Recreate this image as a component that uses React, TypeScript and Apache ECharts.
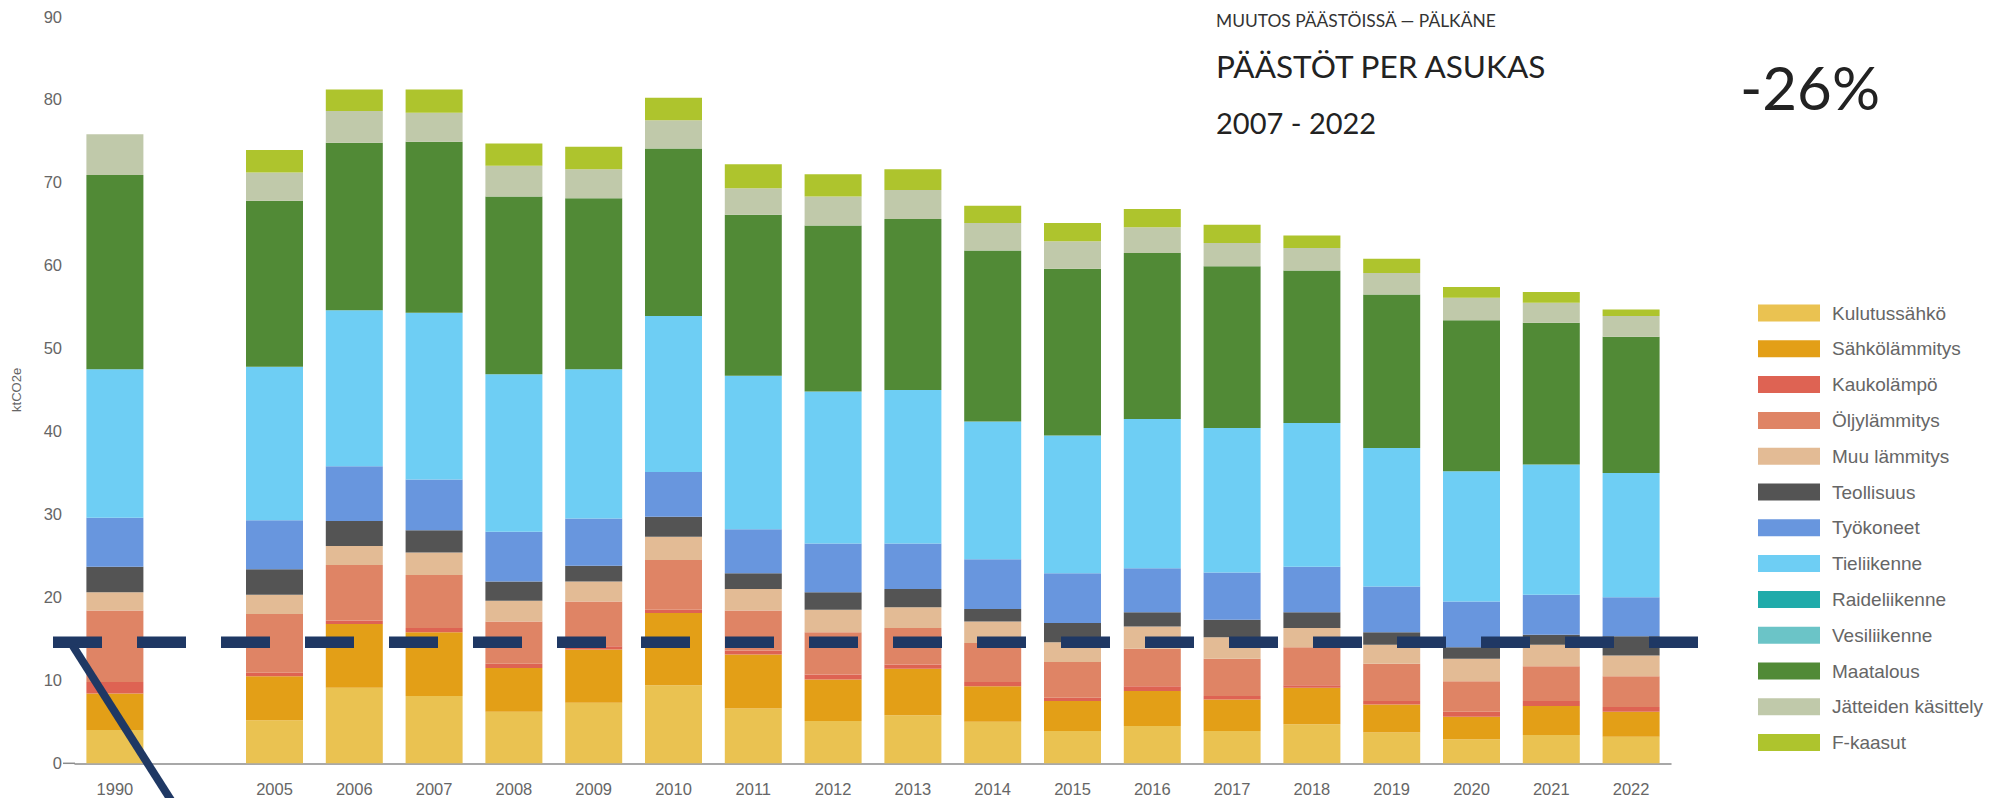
import React, { useEffect, useRef } from 'react';
import * as echarts from 'echarts';

const categories = ['1990', '', '2005', '2006', '2007', '2008', '2009', '2010', '2011', '2012', '2013', '2014', '2015', '2016', '2017', '2018', '2019', '2020', '2021', '2022'];

const kulutussahko = [4.0, null, 5.2, 9.1, 8.1, 6.2, 7.3, 9.4, 6.6, 5.1, 5.8, 5.0, 3.9, 4.5, 3.9, 4.7, 3.7, 2.9, 3.4, 3.2];
const sahkolammitys = [4.4, null, 5.3, 7.7, 7.7, 5.3, 6.4, 8.7, 6.5, 5.0, 5.6, 4.3, 3.6, 4.2, 3.8, 4.4, 3.4, 2.7, 3.5, 3.0];
const kaukolampo = [1.4, null, 0.4, 0.4, 0.5, 0.5, 0.4, 0.4, 0.5, 0.6, 0.5, 0.5, 0.4, 0.6, 0.4, 0.3, 0.4, 0.6, 0.6, 0.6];
const oljylammitys = [8.6, null, 7.1, 6.7, 6.4, 5.1, 5.4, 6.0, 4.8, 5.1, 4.4, 4.7, 4.3, 4.5, 4.5, 4.6, 4.5, 3.7, 4.2, 3.7];
const muuLammitys = [2.2, null, 2.3, 2.3, 2.7, 2.5, 2.4, 2.8, 2.6, 2.7, 2.5, 2.6, 2.4, 2.7, 2.6, 2.3, 2.3, 2.7, 2.6, 2.5];
const teollisuus = [3.1, null, 3.1, 3.0, 2.7, 2.3, 1.9, 2.4, 1.9, 2.1, 2.2, 1.5, 2.3, 1.7, 2.1, 1.9, 1.5, 1.4, 1.2, 2.3];
const tyokoneet = [5.9, null, 5.9, 6.6, 6.1, 6.0, 5.7, 5.4, 5.3, 5.9, 5.5, 6.0, 6.0, 5.3, 5.7, 5.5, 5.5, 5.5, 4.8, 4.7];
const tieliikenne = [17.9, null, 18.5, 18.8, 20.1, 19.0, 18.0, 18.8, 18.5, 18.3, 18.5, 16.6, 16.6, 18.0, 17.4, 17.3, 16.7, 15.7, 15.7, 15.0];
const raideliikenne = [0, null, 0, 0, 0, 0, 0, 0, 0, 0, 0, 0, 0, 0, 0, 0, 0, 0, 0, 0];
const vesiliikenne = [0, null, 0, 0, 0, 0, 0, 0, 0, 0, 0, 0, 0, 0, 0, 0, 0, 0, 0, 0];
const maatalous = [23.4, null, 20.0, 20.2, 20.6, 21.4, 20.6, 20.2, 19.4, 20.0, 20.6, 20.6, 20.1, 20.0, 19.5, 18.4, 18.5, 18.2, 17.1, 16.4];
const jatteidenKasittely = [4.9, null, 3.4, 3.8, 3.5, 3.7, 3.5, 3.4, 3.2, 3.5, 3.5, 3.3, 3.3, 3.1, 2.8, 2.7, 2.6, 2.7, 2.4, 2.5];
const fKaasut = [0, null, 2.7, 2.6, 2.8, 2.7, 2.7, 2.7, 2.9, 2.7, 2.5, 2.1, 2.2, 2.2, 2.2, 1.5, 1.7, 1.3, 1.3, 0.8];

const seriesNames = ['Kulutussähkö', 'Sähkölämmitys', 'Kaukolämpö', 'Öljylämmitys', 'Muu lämmitys', 'Teollisuus', 'Työkoneet', 'Tieliikenne', 'Raideliikenne', 'Vesiliikenne', 'Maatalous', 'Jätteiden käsittely', 'F-kaasut'];
const seriesData = [kulutussahko, sahkolammitys, kaukolampo, oljylammitys, muuLammitys, teollisuus, tyokoneet, tieliikenne, raideliikenne, vesiliikenne, maatalous, jatteidenKasittely, fKaasut];
const seriesColors = ['#EAC251', '#E39F17', '#DE6353', '#DF8465', '#E3BB95', '#545454', '#6896DE', '#6ECEF4', '#20ABAA', '#6BC4C7', '#518A36', '#C0C9AA', '#AEC42D'];

const yTicks = { min: 0, max: 90, interval: 10 };
const thresholdValue = 14.6;

const titleSmall = 'MUUTOS PÄÄSTÖISSÄ — PÄLKÄNE';
const titleMain = 'PÄÄSTÖT PER ASUKAS';
const titlePeriod = '2007 - 2022';
const changeText = '-26%';

export default function App() {
  const ref = useRef<HTMLDivElement>(null);
  useEffect(() => {
    const chart = echarts.init(ref.current!, null, { renderer: 'svg' });
    const axisFont = 'Liberation Sans, Arial, sans-serif';
    chart.setOption({
      animation: false,
      backgroundColor: '#ffffff',
      grid: { left: 75, right: 324, top: 16.5, bottom: 34.7, containLabel: false },
      legend: {
        orient: 'vertical',
        left: 1753,
        top: 298,
        itemWidth: 62,
        itemHeight: 17,
        itemGap: 15.8,
        icon: 'rect',
        selectedMode: false,
        data: seriesNames,
        textStyle: { fontSize: 19, color: '#666', fontFamily: axisFont, lineHeight: 20, padding: [0, 0, 0, 7] },
      },
      xAxis: {
        type: 'category',
        data: categories,
        axisTick: { show: false },
        axisLine: { lineStyle: { color: '#8c8c8c', width: 1.5 } },
        axisLabel: { color: '#666', fontSize: 16.5, margin: 17, fontFamily: axisFont, interval: 0 },
      },
      yAxis: {
        type: 'value',
        min: yTicks.min,
        max: yTicks.max,
        interval: yTicks.interval,
        splitLine: { show: false },
        axisLine: { show: false },
        axisTick: { show: false },
        axisLabel: { color: '#666', fontSize: 16.5, margin: 13, fontFamily: axisFont },
        name: 'ktCO2e',
        nameLocation: 'middle',
        nameRotate: 90,
        nameGap: 52,
        nameTextStyle: { color: '#666', fontSize: 13, fontFamily: axisFont },
      },
      series: seriesNames.map((name, i) => ({
        name,
        type: 'bar',
        stack: 'total',
        barWidth: 57,
        data: seriesData[i],
        itemStyle: { color: seriesColors[i] },
        emphasis: { disabled: true },
      })),
    });

    const yThr = chart.convertToPixel({ yAxisIndex: 0 }, thresholdValue) as number;
    const yZero = chart.convertToPixel({ yAxisIndex: 0 }, 0) as number;
    const navy = '#1f3864';
    const titleFont = 'Lato, "Open Sans", sans-serif';
    chart.setOption({
      graphic: [
        { type: 'line', shape: { x1: 63, y1: yZero, x2: 75, y2: yZero }, style: { stroke: '#8c8c8c', lineWidth: 1.5 }, silent: true },
        { type: 'line', shape: { x1: 53, y1: yThr, x2: 1698, y2: yThr }, style: { stroke: navy, lineWidth: 11.5, lineDash: [49, 35], lineCap: 'butt' }, silent: true, z: 100 },
        { type: 'line', shape: { x1: 73, y1: yThr + 4, x2: 176, y2: 808 }, style: { stroke: navy, lineWidth: 8 }, silent: true, z: 100 },
        { type: 'text', x: 1216, y: 20, style: { text: titleSmall, font: '17.4px ' + titleFont, fill: '#333', textVerticalAlign: 'middle' } },
        { type: 'text', x: 1216, y: 66, style: { text: titleMain, font: '31.5px ' + titleFont, fill: '#222', textVerticalAlign: 'middle' } },
        { type: 'text', x: 1216, y: 122, style: { text: titlePeriod, font: '29px ' + titleFont, fill: '#222', textVerticalAlign: 'middle' } },
        { type: 'text', x: 1740, y: 87, style: { text: changeText, font: '60px ' + titleFont, fill: '#222', textVerticalAlign: 'middle' } },
      ],
    });
    return () => chart.dispose();
  }, []);
  return <div ref={ref} style={{ position: 'fixed', left: 0, top: 0, width: 1995, height: 798, background: '#fff' }} />;
}
